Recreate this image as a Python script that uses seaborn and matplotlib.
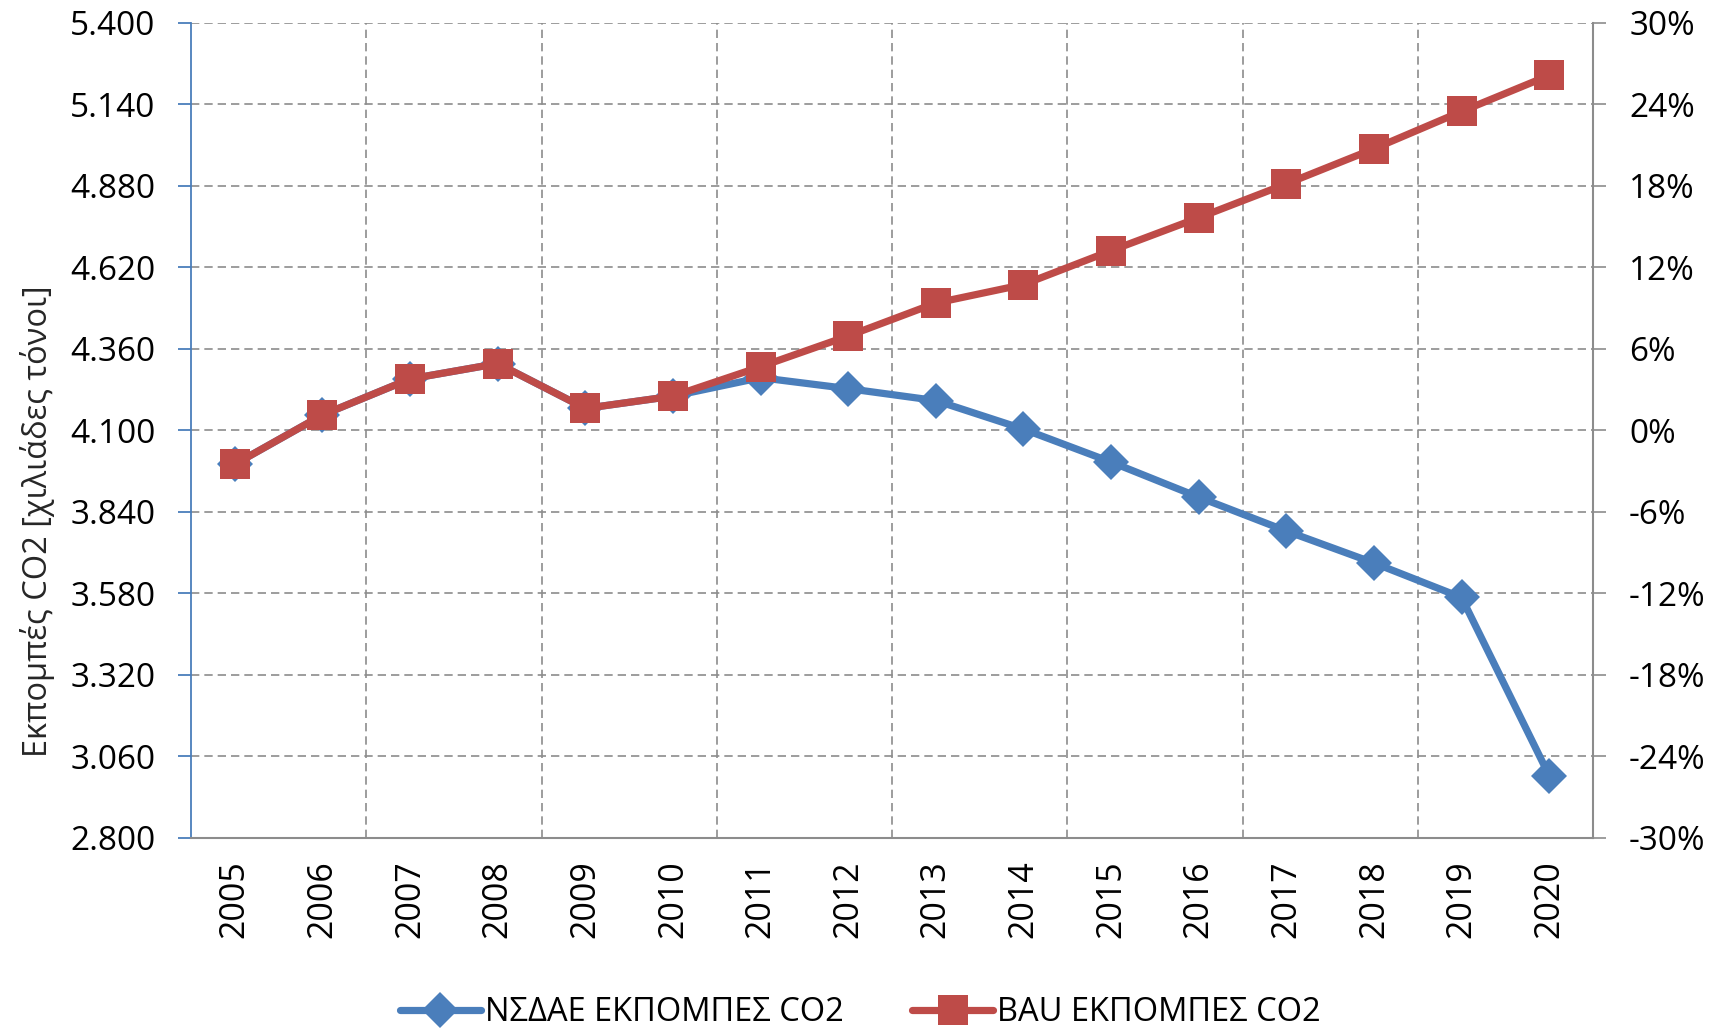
import numpy as np
import pandas as pd
import matplotlib
matplotlib.use("Agg")
import matplotlib.pyplot as plt
import matplotlib.ticker as mticker
from matplotlib.lines import Line2D
import seaborn as sns

# ---- data ----
years = [2005, 2006, 2007, 2008, 2009, 2010, 2011, 2012,
         2013, 2014, 2015, 2016, 2017, 2018, 2019, 2020]
nsdae = [3992, 4149, 4264, 4313, 4170, 4209, 4268, 4233,
         4195, 4104, 3999, 3887, 3779, 3677, 3567, 2999]
bau = [3992, 4149, 4264, 4313, 4170, 4209, 4303, 4401,
       4506, 4565, 4673, 4778, 4886, 4998, 5117, 5232]
left_ticks = [2800, 3060, 3320, 3580, 3840, 4100, 4360, 4620, 4880, 5140, 5400]
right_ticks = [-0.30, -0.24, -0.18, -0.12, -0.06, 0.0, 0.06, 0.12, 0.18, 0.24, 0.30]
label_nsdae = "ΝΣΔΑΕ ΕΚΠΟΜΠΕΣ CO2"
label_bau = "BAU ΕΚΠΟΜΠΕΣ CO2"
ylabel = "Εκπομπές CO2 [χιλιάδες τόνοι]"

BLUE = "#4A7EBB"
RED = "#BE4B48"
GRID = "#8C8C8C"
SPINE_GRAY = "#8C8C8C"

sns.set_style("white")
plt.rcParams['font.family'] = ['Open Sans', 'DejaVu Sans']
plt.rcParams['text.color'] = 'black'

df = pd.DataFrame({"year": years, "nsdae": nsdae, "bau": bau})

fig = plt.figure(figsize=(17.2, 10.29), dpi=100)
W, H = 1720, 1029
left, right, top, bottom = 191, 1593, 22.7, 838
ax = fig.add_axes([left / W, 1 - bottom / H, (right - left) / W, (bottom - top) / H])

LW = 5.2
MS_D, MS_S = 18, 21
sns.lineplot(data=df, x="year", y="nsdae", ax=ax, color=BLUE, linewidth=LW,
             marker="D", markersize=MS_D, markeredgewidth=0, label=label_nsdae)
sns.lineplot(data=df, x="year", y="bau", ax=ax, color=RED, linewidth=LW,
             marker="s", markersize=MS_S, markeredgewidth=0, label=label_bau)
ax.get_legend().remove()

ax.set_xlim(years[0] - 0.5, years[-1] + 0.5)
ax.set_ylim(left_ticks[0], left_ticks[-1])
ax.set_yticks(left_ticks)
ax.yaxis.set_major_formatter(mticker.FuncFormatter(lambda v, p: f"{v:,.0f}".replace(",", ".")))
ax.set_xticks(years)
ax.set_xticklabels([str(y) for y in years], rotation=90)
ax.set_xticks([y + 0.5 for y in years[1:-1:2]], minor=True)
ax.set_xlabel("")
ax.set_ylabel(ylabel, fontsize=23.5)
ax.yaxis.set_label_coords(-0.097, 0.389)

# grid
ax.grid(False)
ax.yaxis.grid(True, which="major", linestyle=(0, (5, 3)), color=GRID, linewidth=1.2)
ax.xaxis.grid(True, which="minor", linestyle=(0, (5, 3)), color=GRID, linewidth=1.2)
ax.set_axisbelow(True)

# spines
ax.spines["top"].set_visible(False)
ax.spines["right"].set_visible(False)
ax.spines["left"].set_color(BLUE)
ax.spines["left"].set_linewidth(1.3)
ax.spines["bottom"].set_color(SPINE_GRAY)
ax.spines["bottom"].set_linewidth(1.5)

ax.tick_params(axis="y", which="major", direction="out", length=9.5, width=1.3,
               color=BLUE, labelsize=24, pad=16, left=True, labelcolor="black")
ax.tick_params(axis="x", which="both", length=0, labelsize=24.5, pad=16, labelcolor="black")

# secondary axis
ax2 = ax.twinx()
ax2.set_ylim(right_ticks[0], right_ticks[-1])
ax2.set_yticks(right_ticks)
ax2.yaxis.set_major_formatter(mticker.FuncFormatter(lambda v, p: f"{int(round(v * 100))}%"))
ax2.grid(False)
for s in ["top", "left", "bottom"]:
    ax2.spines[s].set_visible(False)
ax2.spines["right"].set_color(SPINE_GRAY)
ax2.spines["right"].set_linewidth(1.5)
ax2.tick_params(axis="y", direction="out", length=9, width=1.2, color=SPINE_GRAY,
                labelsize=24, pad=17, right=True, labelcolor="black")

# legend
handles = [
    Line2D([0], [0], color=BLUE, linewidth=LW, marker="D", markersize=MS_D, markeredgewidth=0),
    Line2D([0], [0], color=RED, linewidth=LW, marker="s", markersize=MS_S, markeredgewidth=0),
]
fig.legend(handles, [label_nsdae, label_bau], loc="center", bbox_to_anchor=(0.5, 0.016),
           ncol=2, frameon=False, fontsize=23.5, handlelength=2.5, handletextpad=0.1,
           columnspacing=2.1)

fig.savefig("out.png", dpi=100)
